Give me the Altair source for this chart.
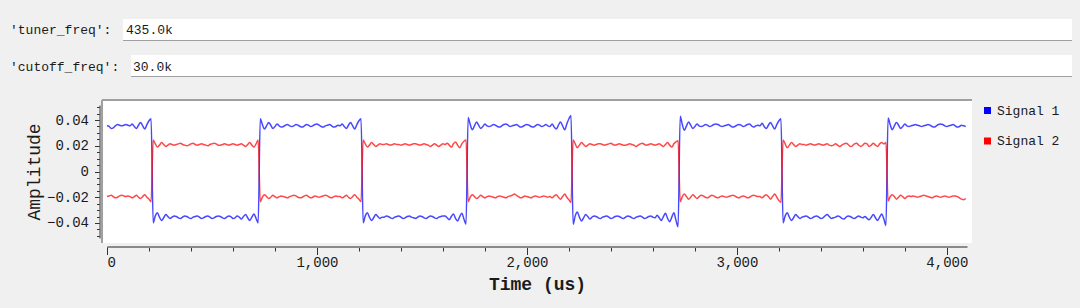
import altair as alt
import pandas as pd

# ---------------- data ----------------
series_names = ["Signal 1", "Signal 2"]
series_colors = ["#0000ff", "#ff0000"]
sample_period_us = 10

# Signal 1 (blue), one list per half cycle of the square wave
s1_a = [0.0355, 0.035, 0.0335, 0.034, 0.0355, 0.0365, 0.036, 0.0355, 0.036, 0.0365, 0.036,
        0.0355, 0.037, 0.035, 0.0335, 0.036, 0.038, 0.0355, 0.033, 0.0365, 0.0395, 0.041]
s1_b = [-0.040, -0.0345, -0.032, -0.0355, -0.038, -0.036, -0.0335, -0.035, -0.0365, -0.0355,
        -0.0345, -0.035, -0.036, -0.0365, -0.0355, -0.0345, -0.035, -0.036, -0.0365, -0.0355,
        -0.035, -0.0345, -0.0355, -0.0365, -0.036, -0.035, -0.0345, -0.0355, -0.0365, -0.036,
        -0.035, -0.0345, -0.035, -0.036, -0.0365, -0.0355, -0.0345, -0.035, -0.0365, -0.036,
        -0.0345, -0.0355, -0.037, -0.035, -0.0335, -0.036, -0.038, -0.0355, -0.033, -0.0365, -0.040]
s1_c = [0.041, 0.0365, 0.033, 0.0355, 0.038, 0.036, 0.0335, 0.035, 0.037, 0.0355,
        0.0345, 0.035, 0.036, 0.0365, 0.0355, 0.035, 0.0355, 0.0365, 0.036, 0.035,
        0.0345, 0.0355, 0.0365, 0.036, 0.035, 0.0355, 0.0365, 0.037, 0.036, 0.035,
        0.0345, 0.0355, 0.036, 0.0365, 0.0355, 0.0345, 0.035, 0.036,
        0.0355, 0.037, 0.035, 0.0335, 0.036, 0.038, 0.0355, 0.033, 0.0365, 0.0395, 0.041]
s1_d = [-0.040, -0.0345, -0.032, -0.0355, -0.038, -0.036, -0.0335, -0.035, -0.0365, -0.0355,
        -0.0355, -0.0345, -0.035, -0.036, -0.0365, -0.0355, -0.035, -0.0345, -0.0355, -0.0365,
        -0.036, -0.035, -0.0345, -0.0355, -0.036, -0.0365, -0.0355, -0.0345, -0.035, -0.036,
        -0.0365, -0.0355, -0.0345, -0.035, -0.036, -0.0365, -0.0355, -0.035, -0.0345,
        -0.0345, -0.036, -0.0375, -0.035, -0.033, -0.0365, -0.0385, -0.035, -0.0325, -0.037, -0.041]
s1_e = [0.042, 0.0365, 0.0325, 0.0355, 0.0385, 0.036, 0.0335, 0.035, 0.037, 0.0355,
        0.035, 0.0355, 0.0365, 0.036, 0.035, 0.0345, 0.0355, 0.0365, 0.037, 0.036,
        0.035, 0.0355, 0.036, 0.0365, 0.0355, 0.0345, 0.035, 0.036, 0.0365, 0.036,
        0.035, 0.0345, 0.0355, 0.0365, 0.036, 0.035, 0.0355, 0.0365, 0.0355,
        0.035, 0.037, 0.0345, 0.033, 0.036, 0.0385, 0.0355, 0.0325, 0.037, 0.041, 0.0435]
s1_f = [-0.041, -0.0345, -0.0315, -0.0355, -0.0385, -0.036, -0.0335, -0.035, -0.037, -0.0355,
        -0.0345, -0.035, -0.036, -0.0365, -0.0355, -0.035, -0.0345, -0.0355, -0.0365, -0.036,
        -0.035, -0.0345, -0.035, -0.036, -0.0365, -0.0355, -0.0345, -0.035, -0.036, -0.0365,
        -0.0355, -0.035, -0.0345, -0.0355, -0.0365, -0.036, -0.035, -0.0345, -0.0355, -0.036,
        -0.034, -0.036, -0.038, -0.035, -0.0325, -0.0365, -0.039, -0.0355, -0.032, -0.038, -0.043]
s1_g = [0.043, 0.0365, 0.032, 0.0355, 0.0385, 0.036, 0.0335, 0.035, 0.037, 0.0355,
        0.035, 0.0355, 0.0365, 0.036, 0.035, 0.0355, 0.0365, 0.037, 0.0365, 0.0355,
        0.035, 0.0355, 0.036, 0.0365, 0.0355, 0.0345, 0.035, 0.036, 0.0365, 0.036,
        0.035, 0.0355, 0.0365, 0.037, 0.0355, 0.0345, 0.0355, 0.036,
        0.0355, 0.0375, 0.035, 0.0335, 0.036, 0.038, 0.0355, 0.033, 0.0365, 0.0395, 0.041]
s1_h = [-0.040, -0.0345, -0.032, -0.0355, -0.038, -0.036, -0.0335, -0.035, -0.0365, -0.0355,
        -0.035, -0.0345, -0.0355, -0.0365, -0.036, -0.035, -0.0345, -0.0355, -0.0365, -0.036,
        -0.0345, -0.0335, -0.035, -0.0365, -0.036, -0.0355, -0.0345, -0.035, -0.0365, -0.037,
        -0.0355, -0.0345, -0.035, -0.036, -0.0365, -0.0355, -0.0345, -0.0355, -0.036,
        -0.035, -0.0365, -0.0375, -0.0355, -0.0335, -0.036, -0.038, -0.0355, -0.033, -0.037, -0.042]
s1_i = [0.0415, 0.0365, 0.0325, 0.0355, 0.038, 0.036, 0.0335, 0.035, 0.037, 0.0355,
        0.035, 0.0355, 0.036, 0.0365, 0.036, 0.0355, 0.035, 0.0355, 0.036, 0.0365,
        0.036, 0.035, 0.0345, 0.0355, 0.0365, 0.037, 0.0365, 0.0355, 0.035, 0.0355,
        0.036, 0.0365, 0.0355, 0.0345, 0.035, 0.036, 0.0355, 0.035]

# Signal 2 (red), same half cycles, opposite polarity
s2_a = [-0.0195, -0.019, -0.0185, -0.0195, -0.0205, -0.020, -0.019, -0.0185, -0.019, -0.0195, -0.019,
        -0.0195, -0.0205, -0.0195, -0.0185, -0.020, -0.021, -0.0195, -0.018, -0.020, -0.0215, -0.0235]
s2_b = [0.0245, 0.0215, 0.019, 0.0205, 0.0225, 0.021, 0.0195, 0.0205, 0.0215, 0.021,
        0.0205, 0.021, 0.0215, 0.022, 0.021, 0.0205, 0.020, 0.0205, 0.0215, 0.022,
        0.021, 0.0205, 0.021, 0.0215, 0.021, 0.0205, 0.020, 0.021, 0.0215, 0.022,
        0.0215, 0.0205, 0.0205, 0.021, 0.0215, 0.021, 0.0205, 0.021, 0.0215, 0.021,
        0.0205, 0.021, 0.0215, 0.0205, 0.0195, 0.021, 0.0225, 0.0205, 0.019, 0.0215, 0.0245]
s2_c = [-0.0235, -0.020, -0.018, -0.0195, -0.021, -0.020, -0.0185, -0.0195, -0.0205, -0.0195,
        -0.019, -0.0195, -0.020, -0.0205, -0.0195, -0.019, -0.0185, -0.019, -0.020, -0.0205,
        -0.020, -0.019, -0.0185, -0.0195, -0.0205, -0.020, -0.019, -0.0195, -0.020, -0.0195,
        -0.019, -0.0185, -0.019, -0.020, -0.0205, -0.0195, -0.019, -0.0195,
        -0.0195, -0.0205, -0.0195, -0.0185, -0.020, -0.021, -0.0195, -0.018, -0.020, -0.0215, -0.0235]
s2_d = [0.0245, 0.0215, 0.019, 0.0205, 0.0225, 0.021, 0.0195, 0.0205, 0.0215, 0.021,
        0.021, 0.0215, 0.021, 0.0205, 0.021, 0.0215, 0.021, 0.021, 0.0205, 0.021,
        0.0215, 0.021, 0.0205, 0.021, 0.0215, 0.0215, 0.021, 0.0205, 0.021, 0.0215,
        0.021, 0.0205, 0.0195, 0.0205, 0.0215, 0.0205, 0.0195, 0.0205, 0.0215,
        0.021, 0.022, 0.0205, 0.019, 0.0215, 0.023, 0.0205, 0.0185, 0.0215, 0.0235, 0.0245]
s2_e = [-0.0235, -0.020, -0.018, -0.0195, -0.021, -0.020, -0.0185, -0.0195, -0.0205, -0.0195,
        -0.019, -0.0195, -0.020, -0.0205, -0.0195, -0.019, -0.0195, -0.020, -0.0205, -0.0195,
        -0.019, -0.0185, -0.0175, -0.0185, -0.0195, -0.0205, -0.020, -0.019, -0.0195, -0.020,
        -0.0205, -0.0195, -0.019, -0.0195, -0.020, -0.0195, -0.019, -0.0195, -0.020,
        -0.0195, -0.0205, -0.019, -0.018, -0.020, -0.0215, -0.0195, -0.0175, -0.020, -0.022, -0.024]
s2_f = [0.0245, 0.0215, 0.0185, 0.0205, 0.0225, 0.021, 0.0195, 0.0205, 0.0215, 0.021,
        0.0205, 0.021, 0.0215, 0.0215, 0.021, 0.0205, 0.021, 0.0215, 0.022, 0.021,
        0.0205, 0.021, 0.0215, 0.021, 0.0205, 0.0205, 0.021, 0.0215, 0.021, 0.0205,
        0.0195, 0.0205, 0.0215, 0.022, 0.021, 0.0205, 0.021, 0.0215, 0.021, 0.0205,
        0.021, 0.0215, 0.0205, 0.0195, 0.021, 0.0225, 0.0205, 0.019, 0.0215, 0.023, 0.024]
s2_g = [-0.0235, -0.0195, -0.0175, -0.0195, -0.0215, -0.020, -0.018, -0.0195, -0.021, -0.0195,
        -0.0185, -0.019, -0.020, -0.0205, -0.0195, -0.0185, -0.019, -0.020, -0.0205, -0.0195,
        -0.019, -0.0195, -0.020, -0.0195, -0.019, -0.0185, -0.019, -0.020, -0.0205, -0.0195,
        -0.019, -0.0195, -0.0205, -0.020, -0.019, -0.0185, -0.019, -0.0195,
        -0.0195, -0.0205, -0.019, -0.018, -0.0195, -0.0215, -0.0195, -0.0175, -0.020, -0.0225, -0.024]
s2_h = [0.0245, 0.0215, 0.0185, 0.0205, 0.0225, 0.021, 0.0195, 0.0205, 0.0215, 0.021,
        0.021, 0.0205, 0.021, 0.0215, 0.021, 0.0205, 0.021, 0.0215, 0.021, 0.0205,
        0.021, 0.0215, 0.0205, 0.020, 0.0205, 0.0215, 0.0205, 0.0195, 0.0205, 0.0215,
        0.022, 0.021, 0.0195, 0.020, 0.0215, 0.022, 0.0205, 0.0195, 0.0205,
        0.022, 0.0215, 0.0195, 0.0205, 0.022, 0.0205, 0.0195, 0.0215, 0.0225, 0.0215, 0.0225]
s2_i = [-0.023, -0.0195, -0.018, -0.0195, -0.0215, -0.020, -0.0185, -0.0195, -0.021, -0.0195,
        -0.019, -0.0195, -0.019, -0.0195, -0.020, -0.0195, -0.019, -0.0185, -0.019, -0.0195,
        -0.020, -0.0205, -0.0195, -0.019, -0.0195, -0.020, -0.0195, -0.019, -0.0195, -0.020,
        -0.0195, -0.019, -0.019, -0.0195, -0.0205, -0.0215, -0.022, -0.021]

signal_1 = s1_a + s1_b + s1_c + s1_d + s1_e + s1_f + s1_g + s1_h + s1_i
signal_2 = s2_a + s2_b + s2_c + s2_d + s2_e + s2_f + s2_g + s2_h + s2_i

x_domain = [0, 4096]
y_domain = [-0.0517, 0.0517]
x_ticks = [0, 1000, 2000, 3000, 4000]
x_minor_ticks = [200, 400, 600, 800, 1200, 1400, 1600, 1800, 2200, 2400,
                 2600, 2800, 3200, 3400, 3600, 3800]
y_ticks = [-0.04, -0.02, 0, 0.02, 0.04]
y_minor_ticks = [-0.05, -0.045, -0.035, -0.03, -0.025, -0.015, -0.01, -0.005,
                 0.005, 0.01, 0.015, 0.025, 0.03, 0.035, 0.045, 0.05]

widget_names = ["'tuner_freq':", "'cutoff_freq':"]
widget_values = ["435.0k", "30.0k"]

# ---------------- build table ----------------
t1 = [i * sample_period_us for i in range(len(signal_1))]
t2 = [i * sample_period_us for i in range(len(signal_2))]
df = pd.DataFrame({
    "t": t1 + t2,
    "v": signal_1 + signal_2,
    "series": [series_names[0]] * len(signal_1) + [series_names[1]] * len(signal_2),
})

FONT = "Liberation Mono"
TXT = "#1a1a1a"
W, H = 870, 143

x_scale = alt.Scale(domain=x_domain, range=[5, 865], nice=False, zero=False)
y_scale = alt.Scale(domain=y_domain, range=[138, 5], nice=False, zero=False)

lines = alt.Chart(df).mark_line(strokeWidth=1.5, opacity=0.72, interpolate="monotone").encode(
    x=alt.X("t:Q", scale=x_scale, axis=alt.Axis(
        orient="bottom", values=x_ticks, labelExpr="format(datum.value, ',')",
        grid=False, offset=3.5,
        domainColor="#8a8a8a", domainWidth=2, tickColor="#333333", tickSize=8,
        tickWidth=1, labelFont=FONT, labelFontSize=14, labelColor=TXT,
        labelPadding=1, title="Time (us)", titleFont=FONT, titleFontSize=18,
        titleFontWeight="bold", titleColor=TXT, titleY=38, titleBaseline="middle")),
    y=alt.Y("v:Q", scale=y_scale, axis=alt.Axis(
        orient="left", values=y_ticks, labelExpr="format(datum.value, '.2~f')",
        grid=False, offset=2.5, domainColor="#555555", domainWidth=1.2,
        tickColor="#333333", tickSize=5, tickWidth=1, labelFont=FONT,
        labelFontSize=14, labelColor=TXT, labelPadding=6, title="Amplitude",
        titleFont=FONT, titleFontSize=18, titleFontWeight="normal", titleColor=TXT,
        titleX=-65, titleY=71.5, titleAngle=270, titleAlign="center",
        titleBaseline="middle")),
    color=alt.Color("series:N", scale=alt.Scale(domain=series_names, range=series_colors),
                    legend=alt.Legend(
                        title=None, orient="none", legendX=879, legendY=4, padding=0,
                        symbolType="square", symbolSize=1, symbolStrokeWidth=6,
                        symbolOpacity=1, labelFont=FONT, labelFontSize=13,
                        labelColor=TXT, labelOffset=3, rowPadding=5.5)),
)

minor = alt.Chart(df).mark_line(opacity=0).encode(
    x=alt.X("t:Q", axis=alt.Axis(orient="bottom", values=x_minor_ticks, labels=False,
                                 domain=False, grid=False, offset=3.5, tickSize=4.5,
                                 tickColor="#333333", title=None)),
    y=alt.Y("v:Q", axis=alt.Axis(orient="left", values=y_minor_ticks, labels=False,
                                 domain=False, grid=False, offset=2.5, tickSize=3,
                                 tickColor="#333333", title=None)),
)

one = pd.DataFrame({"k": [0]})
top_border = alt.Chart(one).mark_rule(color="#a0a0a0", strokeWidth=2).encode(
    x=alt.value(0), x2=alt.value(W), y=alt.value(0))
left_border = alt.Chart(one).mark_rule(color="#a0a0a0", strokeWidth=2).encode(
    x=alt.value(0), y=alt.value(0), y2=alt.value(H))

# top input widgets (positions relative to the plot origin)
box1 = alt.Chart(one).mark_rect(color="white").encode(
    x=alt.value(21), x2=alt.value(970), y=alt.value(-81), y2=alt.value(-59))
box1_line = alt.Chart(one).mark_rule(color="#a0a0a0", strokeWidth=1).encode(
    x=alt.value(21), x2=alt.value(970), y=alt.value(-59.5))
box2 = alt.Chart(one).mark_rect(color="white").encode(
    x=alt.value(29), x2=alt.value(970), y=alt.value(-45), y2=alt.value(-23))
box2_line = alt.Chart(one).mark_rule(color="#a0a0a0", strokeWidth=1).encode(
    x=alt.value(29), x2=alt.value(970), y=alt.value(-23.5))

def label(text, x, y):
    return alt.Chart(pd.DataFrame({"s": [text]})).mark_text(
        font=FONT, fontSize=13, color=TXT, align="left", baseline="middle").encode(
        text="s:N", x=alt.value(x), y=alt.value(y))

name1 = label(widget_names[0], -92, -70)
val1 = label(widget_values[0], 24, -70)
name2 = label(widget_names[1], -92, -33)
val2 = label(widget_values[1], 31, -33)

chart = alt.layer(
    box1, box1_line, box2, box2_line, name1, val1, name2, val2,
    top_border, left_border, minor, lines,
).resolve_axis(x="independent", y="independent").properties(
    width=W, height=H,
    autosize=alt.AutoSizeParams(type="none"),
    padding={"left": 102, "top": 100, "right": 108, "bottom": 65},
    background="#f0f0f0",
).configure_view(fill="white", strokeWidth=0)

chart.save("out.html", embed_options={"renderer": "svg", "actions": False})
